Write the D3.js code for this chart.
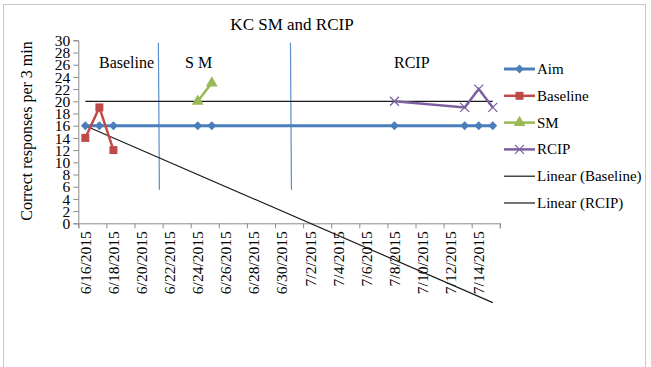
<!DOCTYPE html>
<html>
<head>
<meta charset="utf-8">
<script src="https://cdn.jsdelivr.net/npm/d3@7"></script>
<style>
  body { margin: 0; background: #fff; }
  svg text { font-family: "Liberation Serif", "Times New Roman", serif; fill: #000; }
</style>
</head>
<body>
<script>
// series data (dates as m/d/2015)
var aimDates = ["6/16/2015", "6/17/2015", "6/18/2015", "6/24/2015", "6/25/2015", "7/8/2015", "7/13/2015", "7/14/2015", "7/15/2015"];
var aimValues = [16, 16, 16, 16, 16, 16, 16, 16, 16];

var baselineDates = ["6/16/2015", "6/17/2015", "6/18/2015"];
var baselineValues = [14, 19, 12];

var smDates = ["6/24/2015", "6/25/2015"];
var smValues = [20, 23];

var rcipDates = ["7/8/2015", "7/13/2015", "7/14/2015", "7/15/2015"];
var rcipValues = [20, 19, 22, 19];

var tickDates = ["6/16/2015", "6/18/2015", "6/20/2015", "6/22/2015", "6/24/2015", "6/26/2015", "6/28/2015",
                 "6/30/2015", "7/2/2015", "7/4/2015", "7/6/2015", "7/8/2015", "7/10/2015", "7/12/2015", "7/14/2015"];
var yTicks = d3.range(0, 31, 2);

// phase change lines (days after 6/16) and phase labels
var phaseLines = [5.7, 15.1];
var phaseLabels = ["Baseline", "S M", "RCIP"];

var width = 651, height = 367;
var margin = {left: 78.3, top: 40, right: 151, bottom: 144};

var parse = d3.timeParse("%m/%d/%Y");
var startDate = parse("6/16/2015");
var dayIndex = function(s){ return d3.timeDay.count(startDate, parse(s)); };

var svg = d3.select("body").append("svg")
    .attr("width", width)
    .attr("height", height);

// outer chart border
svg.append("rect")
    .attr("x", 3.5).attr("y", 4.5)
    .attr("width", 642).attr("height", 370)
    .attr("fill", "none").attr("stroke", "#c8c8c8");

// x: one slot per day, 6/16 .. 7/15
var x = d3.scaleLinear().domain([0, 30]).range([margin.left, 499.8]);
var xc = function(i){ return x(i + 0.5); };
var y = d3.scaleLinear().domain([0, 30]).range([223.3, 40.3]);

// title
svg.append("text")
    .attr("x", 292).attr("y", 30)
    .attr("text-anchor", "middle")
    .style("font-size", "17px")
    .text("KC SM and RCIP");

// y axis
var yAxis = svg.append("g")
    .attr("transform", "translate(" + margin.left + ",0)")
    .call(d3.axisLeft(y).tickValues(yTicks).tickSize(5).tickPadding(3));
yAxis.select(".domain").attr("stroke", "#8a8a8a");
yAxis.selectAll(".tick line").attr("stroke", "#8a8a8a");
yAxis.selectAll(".tick text")
    .style("font-size", "15.5px")
    .style("font-family", "Liberation Serif, serif")
    .attr("dy", "0.34em");

svg.append("text")
    .attr("transform", "translate(32,131) rotate(-90)")
    .attr("text-anchor", "middle")
    .style("font-size", "16px")
    .text("Correct responses per 3 min");

// x axis
var xAxis = svg.append("g")
    .attr("transform", "translate(0," + y(0) + ")")
    .call(d3.axisBottom(x).tickValues(d3.range(0, 31, 2)).tickSize(5).tickFormat(""));
xAxis.select(".domain").attr("stroke", "#8a8a8a");
xAxis.selectAll(".tick line").attr("stroke", "#8a8a8a");

svg.selectAll(".xlab")
    .data(tickDates)
    .enter()
    .append("text")
    .attr("class", "xlab")
    .attr("text-anchor", "end")
    .attr("dy", "0.35em")
    .style("font-size", "15.5px")
    .attr("transform", function(d){
        return "translate(" + xc(dayIndex(d)) + "," + (y(0) + 8) + ") rotate(-90)";
    })
    .text(function(d){ return d; });

// phase change lines
svg.selectAll(".phase")
    .data(phaseLines)
    .enter()
    .append("line")
    .attr("class", "phase")
    .attr("x1", function(d){ return x(d); })
    .attr("x2", function(d){ return x(d) + 1; })
    .attr("y1", y(29.6)).attr("y2", y(5.5))
    .attr("stroke", "#5b8fcf").attr("stroke-width", 1.2);

var phaseX = [99, 185, 394];
svg.selectAll(".plabel")
    .data(phaseLabels)
    .enter()
    .append("text")
    .attr("class", "plabel")
    .attr("x", function(d, i){ return phaseX[i]; })
    .attr("y", 68)
    .style("font-size", "16px")
    .text(function(d){ return d; });

// least squares trend over date index
function trend(dates, vals){
    var xs = dates.map(dayIndex);
    var mx = d3.mean(xs), my = d3.mean(vals);
    var sxy = d3.sum(xs, function(v, i){ return (v - mx) * (vals[i] - my); });
    var sxx = d3.sum(xs, function(v){ return (v - mx) * (v - mx); });
    var b = sxy / sxx, a = my - b * mx;
    return function(i){ return a + b * i; };
}

var trendBase = trend(baselineDates, baselineValues);
var trendRcip = trend(rcipDates, rcipValues);

[trendBase, trendRcip].forEach(function(f){
    svg.append("line")
        .attr("x1", xc(0)).attr("y1", y(f(0)))
        .attr("x2", xc(29)).attr("y2", y(f(29)))
        .attr("stroke", "#1a1a1a").attr("stroke-width", 1.2);
});

var line = d3.line()
    .x(function(d){ return xc(d[0]); })
    .y(function(d){ return y(d[1]); });

function pairs(dates, vals){
    return dates.map(function(d, i){ return [dayIndex(d), vals[i]]; });
}

var series = [
    {name: "Aim", data: pairs(aimDates, aimValues), color: "#4a7ebb", width: 3, symbol: d3.symbolDiamond2, size: 50},
    {name: "Baseline", data: pairs(baselineDates, baselineValues), color: "#be4b48", width: 2.5, symbol: d3.symbolSquare, size: 64},
    {name: "SM", data: pairs(smDates, smValues), color: "#98b954", width: 2.5, symbol: d3.symbolTriangle, size: 60},
    {name: "RCIP", data: pairs(rcipDates, rcipValues), color: "#7d60a0", width: 2.5, symbol: "x", size: 4.5}
];

function drawMarker(g, s, px, py){
    if (s.symbol === "x") {
        g.append("path")
            .attr("d", "M" + (px - s.size) + "," + (py - s.size) + "L" + (px + s.size) + "," + (py + s.size) +
                       "M" + (px - s.size) + "," + (py + s.size) + "L" + (px + s.size) + "," + (py - s.size))
            .attr("stroke", s.color).attr("stroke-width", 1.3).attr("fill", "none");
    } else {
        g.append("path")
            .attr("d", d3.symbol().type(s.symbol).size(s.size))
            .attr("transform", "translate(" + px + "," + py + ")")
            .attr("fill", s.color);
    }
}

series.forEach(function(s){
    svg.append("path")
        .datum(s.data)
        .attr("d", line)
        .attr("fill", "none")
        .attr("stroke", s.color)
        .attr("stroke-width", s.width);
    var g = svg.append("g");
    s.data.forEach(function(d){ drawMarker(g, s, xc(d[0]), y(d[1])); });
});

// legend
var legendNames = ["Aim", "Baseline", "SM", "RCIP", "Linear (Baseline)", "Linear (RCIP)"];
var legend = svg.append("g");
legendNames.forEach(function(name, i){
    var ly = 69 + i * 26.8;
    var s = series[i];
    legend.append("line")
        .attr("x1", 504).attr("x2", 535)
        .attr("y1", ly).attr("y2", ly)
        .attr("stroke", s ? s.color : "#1a1a1a")
        .attr("stroke-width", s ? s.width : 1.2);
    if (s) drawMarker(legend, s, 519.5, ly);
    legend.append("text")
        .attr("x", 537).attr("y", ly + 5)
        .style("font-size", "15px")
        .text(name);
});
</script>
</body>
</html>
